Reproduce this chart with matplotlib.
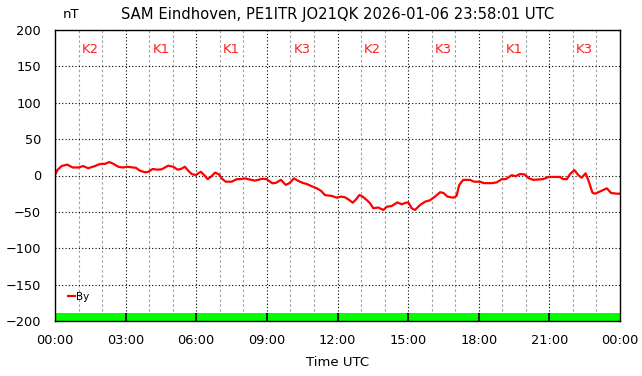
import matplotlib
matplotlib.use("Agg")
import matplotlib.pyplot as plt
import numpy as np

# By component, hours UTC / nT
hours = [0.0, 0.04, 0.10, 0.28, 0.52, 0.75, 0.99, 1.20, 1.41, 1.70, 1.91, 2.12, 2.31,
         2.48, 2.69, 2.88, 3.07, 3.44, 3.61, 3.82, 3.96, 4.15, 4.35, 4.53, 4.81,
         5.03, 5.21, 5.35, 5.52, 5.66, 5.81, 5.98, 6.13, 6.20, 6.34, 6.49, 6.63,
         6.80, 6.97, 7.08, 7.25, 7.51, 7.72, 7.86, 8.07, 8.21, 8.47, 8.64, 8.78,
         8.99, 9.23, 9.39, 9.60, 9.80, 9.98, 10.15, 10.34, 10.51, 10.69, 10.88,
         11.12, 11.30, 11.47, 11.75, 11.97, 12.15, 12.32, 12.50, 12.65, 12.79,
         12.93, 13.07, 13.24, 13.38, 13.52, 13.73, 13.95, 14.09, 14.30, 14.54,
         14.73, 14.91, 15.01, 15.15, 15.29, 15.51, 15.72, 15.93, 16.14, 16.36,
         16.50, 16.67, 16.92, 17.06, 17.17, 17.34, 17.63, 17.80, 18.05, 18.22,
         18.55, 18.76, 18.98, 19.15, 19.40, 19.57, 19.75, 19.94, 20.14, 20.32,
         20.74, 20.96, 21.24, 21.45, 21.59, 21.74, 21.88, 22.06, 22.23, 22.37,
         22.54, 22.65, 22.83, 22.94, 23.15, 23.44, 23.62, 23.86, 24.0]
by_nT = [1, 3, 7.5, 13, 15, 11, 11, 13, 10, 13, 15.8, 16, 18.5,
         16, 12, 11, 12, 10.5, 6.6, 4.4, 5, 9, 8, 8.5, 13.5,
         12, 8, 9, 12, 6.6, 2, 0.5, 4, 5, 0.5, -5, -1.5,
         4, 1.5, -4, -8.5, -8.5, -5, -5, -4, -5, -7, -6, -4.5,
         -5, -10.7, -10, -6, -13, -10, -4, -7.5, -10, -11.7, -14.4,
         -17.6, -21, -27, -28, -30.5, -29, -30, -33.7, -37.4, -32.7,
         -26.8, -29, -33.7, -38, -45, -44, -47.4, -43, -42, -37,
         -39.5, -37.4, -37, -45, -47.4, -40.5, -36, -34, -29, -23,
         -24, -29, -30.5, -28, -13, -6, -6, -8.5, -8.5, -10.5,
         -10.5, -9.5, -5, -5, 0.5, -1, 2, 1.5, -4, -6,
         -5, -2, -2, -2, -5, -5, 2, 7.5, 0.5, -3,
         3, -6, -23.6, -25, -22, -17.6, -24, -25, -25]

# K index per 3 hour block
k_start = [0, 3, 6, 9, 12, 15, 18, 21]
k_index = [2, 1, 1, 3, 2, 3, 1, 3]

title = "SAM Eindhoven, PE1ITR JO21QK 2026-01-06 23:58:01 UTC"
xlabels = ["00:00", "03:00", "06:00", "09:00", "12:00", "15:00", "18:00", "21:00", "00:00"]

fig = plt.figure(figsize=(6.42, 3.76), dpi=100)
ax = fig.add_axes([55/642, 1 - 321/376, 565/642, 291/376])

ymin, ymax = -200, 200
band = 11  # height of the K bar strip at the bottom

# green K strip
ax.bar(k_start, [band] * len(k_start), width=3, bottom=ymin, align="edge",
       color="#00ff00", linewidth=0, zorder=1)
ax.vlines(k_start[1:], ymin, ymin + band, colors="black", linewidth=1.2, zorder=3)

# grids
for h in range(1, 24):
    if h % 3:
        ax.axvline(h, color="#a0a0a0", linewidth=0.8, linestyle=(0, (2.2, 2.2)), zorder=0)
    else:
        ax.axvline(h, color="black", linewidth=0.8, linestyle=(0, (1, 2)), zorder=2)
for v in range(-200, 201, 50):
    ax.axhline(v, color="black", linewidth=0.8, linestyle=(0, (1, 2)), zorder=2)

ax.plot(hours, by_nT, color="red", linewidth=1.6, label="By", zorder=4)

for s, k in zip(k_start, k_index):
    ax.text(s + 1.5, 173, "K%d" % k, color="#ff2020", fontsize=9.5,
            ha="center", va="center")

ax.set_xlim(0, 24)
ax.set_ylim(ymin, ymax)
ax.set_xticks(np.arange(0, 25, 3))
ax.set_xticklabels(xlabels)
ax.set_yticks(np.arange(-200, 201, 50))
ax.tick_params(axis="both", length=0, labelsize=9.3)
ax.tick_params(axis="y", pad=10)
ax.tick_params(axis="x", pad=9)
for sp in ax.spines.values():
    sp.set_linewidth(1.0)
    sp.set_zorder(5)

ax.set_xlabel("Time UTC", fontsize=9.5, labelpad=7)
ax.set_title(title, fontsize=10.6, pad=8)
fig.text(71/642, 1 - 15/376, "nT", fontsize=9.5, ha="center", va="center")

ax.legend(loc="lower left", bbox_to_anchor=(0.01, 0.04), frameon=False,
          fontsize=7.5, handlelength=0.7, handletextpad=0.1, borderpad=0.2)

fig.savefig("out.png", dpi=100)
